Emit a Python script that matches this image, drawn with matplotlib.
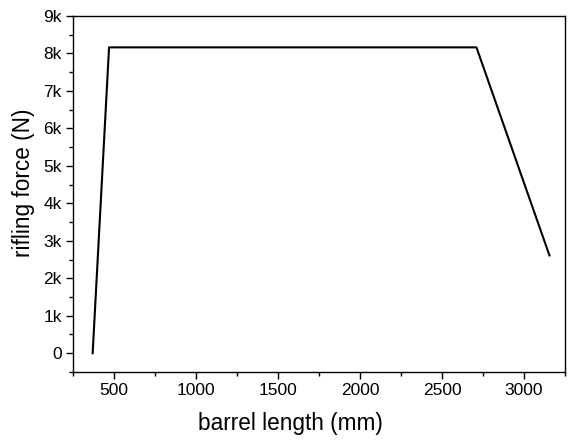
import matplotlib
matplotlib.use("Agg")
import matplotlib.pyplot as plt
from matplotlib.ticker import MultipleLocator, FuncFormatter

plt.rcParams['font.family'] = ['Liberation Sans', 'DejaVu Sans']

# barrel length (mm) vs rifling force (N)
length = [370, 470, 2710, 3155]
force = [0, 8160, 8160, 2610]

fig = plt.figure(figsize=(5.81, 4.41), dpi=100)
ax = fig.add_axes([0.1256, 0.1565, 0.9725 - 0.1256, 0.964 - 0.1565])

ax.plot(length, force, color='black', lw=1.5)

ax.set_xlim(250, 3250)
ax.set_ylim(-500, 9000)
ax.xaxis.set_major_locator(MultipleLocator(500))
ax.xaxis.set_minor_locator(MultipleLocator(250))
ax.yaxis.set_major_locator(MultipleLocator(1000))
ax.yaxis.set_minor_locator(MultipleLocator(500))
ax.yaxis.set_major_formatter(FuncFormatter(lambda v, p: '0' if v == 0 else f'{int(v/1000)}k'))

ax.tick_params(which='major', direction='out', length=5, width=1, labelsize=12.5, pad=3)
ax.tick_params(which='minor', direction='out', length=3, width=1)
for s in ax.spines.values():
    s.set_linewidth(1)

ax.set_xlabel('barrel length (mm)', fontsize=16.3, labelpad=10)
ax.set_ylabel('rifling force (N)', fontsize=16.3, labelpad=6)
ax.xaxis.label.set_x(0.441)
ax.yaxis.label.set_y(0.532)

fig.savefig('out.png', dpi=100)
